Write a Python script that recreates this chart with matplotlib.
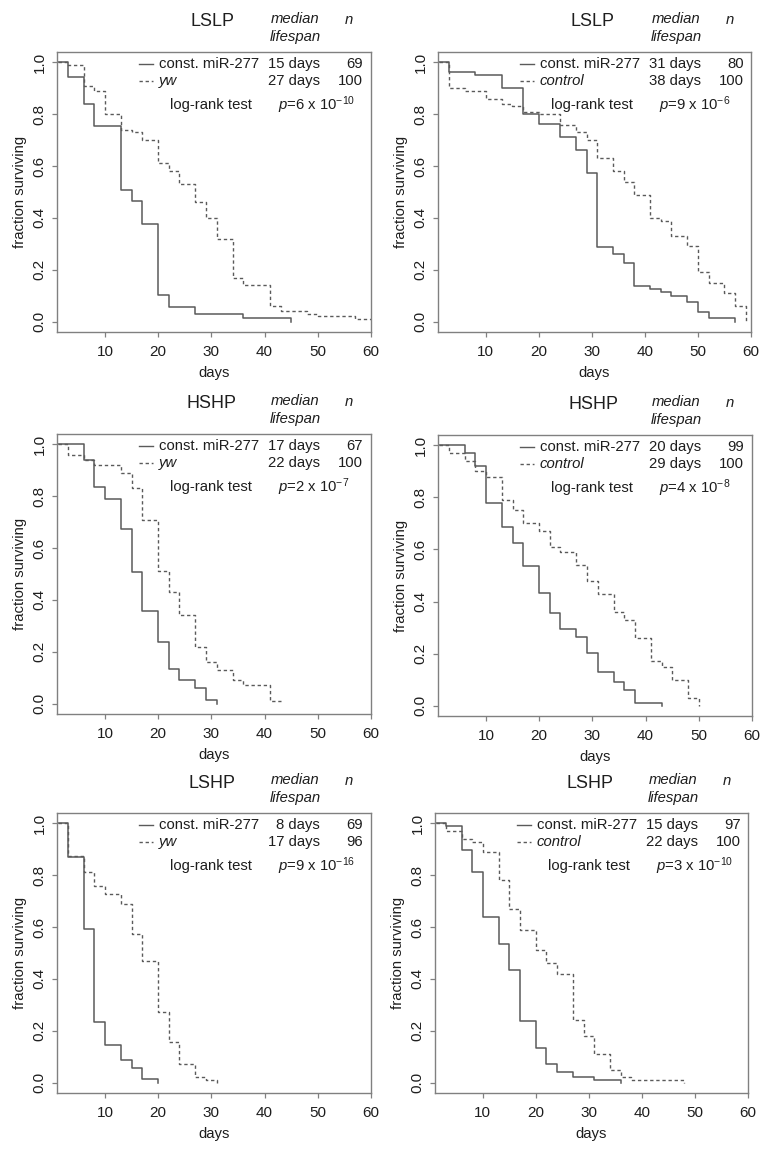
import matplotlib

matplotlib.use("Agg")

import matplotlib.pyplot as plt  # noqa: E402

plt.rcParams["font.family"] = ["Liberation Sans", "DejaVu Sans"]
plt.rcParams["mathtext.fontset"] = "custom"
plt.rcParams["mathtext.rm"] = "Liberation Sans"
plt.rcParams["mathtext.it"] = "Liberation Sans:italic"

LINE = "#5a5a5a"
FRAME = "#808080"
INK = "#1e1e1e"

# Kaplan-Meier steps: event day -> fraction surviving
LSLP_YW_MIR_T = [0, 3, 6, 8, 13, 15, 17, 20, 22, 27, 36, 45]
LSLP_YW_MIR_S = [1.0, 0.942, 0.841, 0.754, 0.507, 0.464, 0.377, 0.101, 0.058, 0.029, 0.014, 0.0]
LSLP_YW_CTL_T = [0, 3, 6, 8, 10, 13, 15, 17, 20, 22, 24, 27, 29, 31, 34, 36, 41, 43, 48, 50, 57, 60]
LSLP_YW_CTL_S = [1.0, 0.99, 0.91, 0.89, 0.80, 0.74, 0.73, 0.70, 0.61, 0.58, 0.53, 0.46, 0.40, 0.32,
                 0.17, 0.14, 0.06, 0.04, 0.03, 0.02, 0.01, 0.01]

LSLP_C_MIR_T = [0, 3, 8, 13, 17, 20, 24, 27, 29, 31, 34, 36, 38, 41, 43, 45, 48, 50, 52, 57]
LSLP_C_MIR_S = [1.0, 0.9625, 0.95, 0.90, 0.80, 0.7625, 0.7125, 0.6625, 0.575, 0.2875, 0.2625, 0.225,
                0.1375, 0.125, 0.1125, 0.10, 0.075, 0.0375, 0.0125, 0.0]
LSLP_C_CTL_T = [0, 3, 6, 10, 13, 15, 17, 20, 24, 27, 29, 31, 34, 36, 38, 41, 43, 45, 48, 50, 52, 55, 57, 59]
LSLP_C_CTL_S = [1.0, 0.90, 0.89, 0.86, 0.84, 0.83, 0.81, 0.80, 0.76, 0.73, 0.70, 0.63, 0.58, 0.54, 0.49,
                0.40, 0.39, 0.33, 0.29, 0.19, 0.15, 0.11, 0.06, 0.0]

HSHP_YW_MIR_T = [0, 6, 8, 10, 13, 15, 17, 20, 22, 24, 27, 29, 31]
HSHP_YW_MIR_S = [1.0, 0.940, 0.836, 0.791, 0.672, 0.507, 0.358, 0.239, 0.134, 0.090, 0.060, 0.015, 0.0]
HSHP_YW_CTL_T = [0, 3, 6, 8, 13, 15, 17, 20, 22, 24, 27, 29, 31, 34, 36, 41, 43]
HSHP_YW_CTL_S = [1.0, 0.96, 0.94, 0.92, 0.89, 0.83, 0.71, 0.51, 0.43, 0.34, 0.22, 0.16, 0.13, 0.09, 0.07,
                 0.01, 0.01]

HSHP_C_MIR_T = [0, 6, 8, 10, 13, 15, 17, 20, 22, 24, 27, 29, 31, 34, 36, 38, 43]
HSHP_C_MIR_S = [1.0, 0.970, 0.919, 0.778, 0.687, 0.626, 0.535, 0.434, 0.354, 0.293, 0.263, 0.202, 0.131,
                0.091, 0.061, 0.010, 0.0]
HSHP_C_CTL_T = [0, 3, 6, 8, 10, 13, 15, 17, 20, 22, 24, 27, 29, 31, 34, 36, 38, 41, 43, 45, 48, 50]
HSHP_C_CTL_S = [1.0, 0.97, 0.94, 0.90, 0.88, 0.79, 0.75, 0.70, 0.67, 0.61, 0.59, 0.54, 0.48, 0.43, 0.36,
                0.33, 0.26, 0.17, 0.15, 0.10, 0.03, 0.0]

LSHP_YW_MIR_T = [0, 3, 6, 8, 10, 13, 15, 17, 20]
LSHP_YW_MIR_S = [1.0, 0.870, 0.594, 0.232, 0.145, 0.087, 0.058, 0.0145, 0.0]
LSHP_YW_CTL_T = [0, 3, 6, 8, 10, 13, 15, 17, 20, 22, 24, 27, 29, 31]
LSHP_YW_CTL_S = [1.0, 0.875, 0.8125, 0.760, 0.729, 0.6875, 0.573, 0.469, 0.271, 0.156, 0.073, 0.021,
                 0.0104, 0.0]

LSHP_C_MIR_T = [0, 3, 6, 8, 10, 13, 15, 17, 20, 22, 24, 27, 31, 36]
LSHP_C_MIR_S = [1.0, 0.990, 0.897, 0.814, 0.639, 0.536, 0.433, 0.237, 0.134, 0.072, 0.041, 0.021, 0.0103, 0.0]
LSHP_C_CTL_T = [0, 3, 6, 8, 10, 13, 15, 17, 20, 22, 24, 27, 29, 31, 34, 36, 38, 48]
LSHP_C_CTL_S = [1.0, 0.97, 0.94, 0.93, 0.89, 0.78, 0.67, 0.59, 0.51, 0.46, 0.42, 0.24, 0.18, 0.11, 0.05,
                0.02, 0.01, 0.0]

TITLES = ["LSLP", "LSLP", "HSHP", "HSHP", "LSHP", "LSHP"]
CONTROL_NAMES = ["yw", "control", "yw", "control", "yw", "control"]
MEDIAN_MIR = ["15 days", "31 days", "17 days", "20 days", "8 days", "15 days"]
MEDIAN_CTL = ["27 days", "38 days", "22 days", "29 days", "17 days", "22 days"]
N_MIR = ["69", "80", "67", "99", "69", "97"]
N_CTL = ["100", "100", "100", "100", "96", "100"]
P_MANT = ["6", "9", "2", "4", "9", "3"]
P_EXP = ["-10", "-6", "-7", "-8", "-16", "-10"]

CURVES = [
    (LSLP_YW_MIR_T, LSLP_YW_MIR_S, LSLP_YW_CTL_T, LSLP_YW_CTL_S),
    (LSLP_C_MIR_T, LSLP_C_MIR_S, LSLP_C_CTL_T, LSLP_C_CTL_S),
    (HSHP_YW_MIR_T, HSHP_YW_MIR_S, HSHP_YW_CTL_T, HSHP_YW_CTL_S),
    (HSHP_C_MIR_T, HSHP_C_MIR_S, HSHP_C_CTL_T, HSHP_C_CTL_S),
    (LSHP_YW_MIR_T, LSHP_YW_MIR_S, LSHP_YW_CTL_T, LSHP_YW_CTL_S),
    (LSHP_C_MIR_T, LSHP_C_MIR_S, LSHP_C_CTL_T, LSHP_C_CTL_S),
]

# axes boxes in pixels: left, top, right, bottom
BOXES = [
    (57, 52, 371, 332), (438, 52, 751, 332),
    (57, 434, 371, 714), (438, 435, 752, 716),
    (57, 813, 371, 1093), (435, 813, 748, 1093),
]

W, H = 772, 1154
fig = plt.figure(figsize=(W / 100, H / 100), dpi=100)

DASH = (0, (2.4, 2.0))
FS = 10.7

for i, (l, t, r, b) in enumerate(BOXES):
    ax = fig.add_axes([l / W, 1 - b / H, (r - l) / W, (b - t) / H])
    mt, ms, ct, cs = CURVES[i]
    ax.step(mt, ms, where="post", color=LINE, lw=1.1)
    ax.step(ct, cs, where="post", color=LINE, lw=1.0, linestyle=DASH)
    ax.set_xlim(1, 60)
    ax.set_ylim(-0.04, 1.04)
    ax.set_xticks([10, 20, 30, 40, 50, 60])
    ax.set_yticks([0.0, 0.2, 0.4, 0.6, 0.8, 1.0])
    ax.set_yticklabels(["0.0", "0.2", "0.4", "0.6", "0.8", "1.0"])
    for sp in ax.spines.values():
        sp.set_color(FRAME)
        sp.set_linewidth(1.0)
    ax.tick_params(direction="out", length=3.6, width=0.9, color=FRAME,
                   labelsize=11, labelcolor=INK, pad=4)
    ax.tick_params(axis="x", pad=6)
    for lab in ax.get_yticklabels():
        lab.set_rotation(90)
        lab.set_va("center")
    ax.set_xlabel("days", fontsize=FS, color=INK)
    ax.set_ylabel("fraction surviving", fontsize=FS, color=INK)
    ax.xaxis.set_label_coords(0.5, -0.122)
    ax.yaxis.set_label_coords(-0.095, 0.5)

    wpx, hpx = r - l, b - t

    def ax_x(px):
        return px / wpx

    def ax_y(px_from_top):
        return 1 - px_from_top / hpx

    tr = ax.transAxes
    ax.text(ax_x(155), ax_y(-30), TITLES[i], transform=tr, ha="center", va="center",
            fontsize=12.9, color=INK)
    ax.text(ax_x(238), ax_y(-33), "median", transform=tr, ha="center", va="center",
            fontsize=FS, style="italic", color=INK)
    ax.text(ax_x(238), ax_y(-15), "lifespan", transform=tr, ha="center", va="center",
            fontsize=FS, style="italic", color=INK)
    ax.text(ax_x(292), ax_y(-32), "n", transform=tr, ha="center", va="center",
            fontsize=FS, style="italic", color=INK)

    rows = [(12, "const. miR-277", "normal", MEDIAN_MIR[i], N_MIR[i], "-"),
            (29, CONTROL_NAMES[i], "italic", MEDIAN_CTL[i], N_CTL[i], DASH)]
    for dy, name, sty, med, n, ls in rows:
        ax.plot([ax_x(82), ax_x(96)], [ax_y(dy), ax_y(dy)], transform=tr, color=LINE,
                lw=1.0, linestyle=ls, clip_on=False)
        ax.text(ax_x(102), ax_y(dy), name, transform=tr, ha="left", va="center",
                fontsize=FS, style=sty, color=INK)
        ax.text(ax_x(263), ax_y(dy), med, transform=tr, ha="right", va="center",
                fontsize=FS, color=INK)
        ax.text(ax_x(306), ax_y(dy), n, transform=tr, ha="right", va="center",
                fontsize=FS, color=INK)
    ax.text(ax_x(113), ax_y(53), "log-rank test", transform=tr, ha="left", va="center",
            fontsize=FS, color=INK)
    ax.text(ax_x(221), ax_y(53), "$p$=" + P_MANT[i] + " x 10$^{" + P_EXP[i] + "}$",
            transform=tr, ha="left", va="center", fontsize=FS, color=INK)

fig.savefig("out.png", facecolor="white")
